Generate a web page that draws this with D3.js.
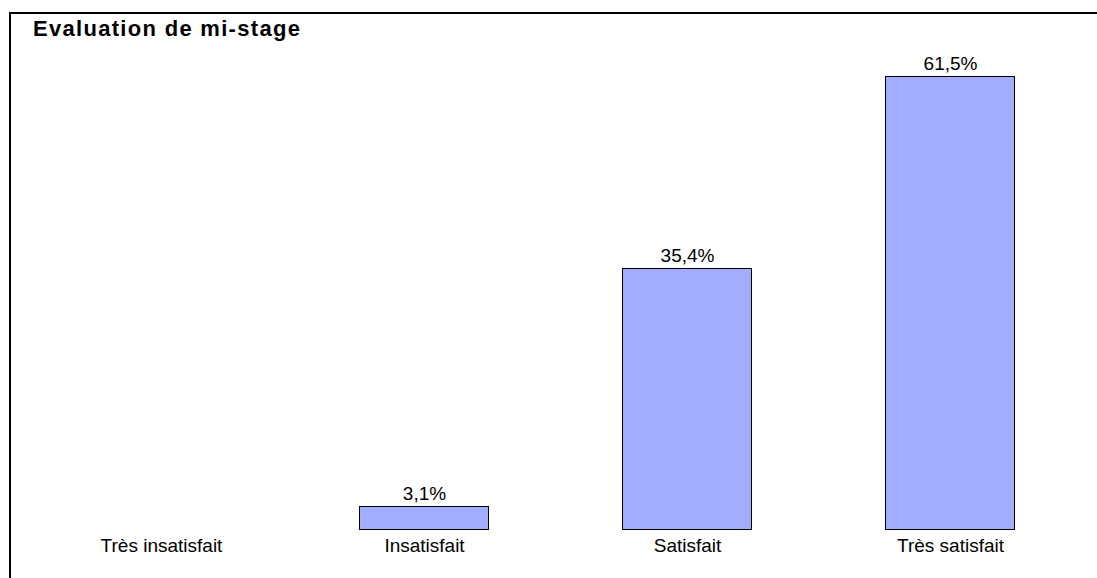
<!DOCTYPE html>
<html>
<head>
<meta charset="utf-8">
<script src="https://cdn.jsdelivr.net/npm/d3@7"></script>
<style>
  body { margin: 0; background: #fff; }
  svg { display: block; font-family: "Liberation Sans", Arial, sans-serif; }
</style>
</head>
<body>
<svg id="chart" width="1097" height="578"></svg>
<script>
var categories = ['Très insatisfait', 'Insatisfait', 'Satisfait', 'Très satisfait'];
var values = [0, 3.1, 35.4, 61.5];
var valueLabels = ['', '3,1%', '35,4%', '61,5%'];

var width = 1097, height = 578;
var svg = d3.select('#chart');

// rows built from the arrays above
var rows = categories.map(function(c, i){
  return {cat: c, val: values[i], label: valueLabels[i]};
});

// frame: only top and left edges show
svg.append('line').attr('x1', 9).attr('x2', width).attr('y1', 13).attr('y2', 13)
  .attr('stroke', '#000').attr('stroke-width', 2);
svg.append('line').attr('x1', 10).attr('x2', 10).attr('y1', 12).attr('y2', height)
  .attr('stroke', '#000').attr('stroke-width', 2);

svg.append('text')
  .attr('x', 33).attr('y', 36)
  .attr('font-size', 22).attr('font-weight', 'bold')
  .attr('letter-spacing', 1.3)
  .text('Evaluation de mi-stage');

var x = d3.scaleBand()
  .domain(categories)
  .range([29, 1081])
  .paddingInner(0.51)
  .paddingOuter(0.255);

var y = d3.scaleLinear()
  .domain([0, 61.5])
  .range([529, 76]);

var g = svg.append('g');

g.selectAll('rect')
  .data(rows.filter(function(d){ return d.val > 0; }))
  .enter()
    .append('rect')
    .attr('x', function(d){ return Math.round(x(d.cat)) + 0.5; })
    .attr('y', function(d){ return Math.round(y(d.val)) + 0.5; })
    .attr('width', Math.round(x.bandwidth()))
    .attr('height', function(d){ return y(0) - Math.round(y(d.val)); })
    .attr('fill', '#a3adff')
    .attr('stroke', '#000')
    .attr('stroke-width', 1);

g.selectAll('text.val')
  .data(rows)
  .enter()
    .append('text')
    .attr('class', 'val')
    .attr('x', function(d){ return x(d.cat) + x.bandwidth() / 2 + 1; })
    .attr('y', function(d){ return Math.round(y(d.val)) - 6; })
    .attr('text-anchor', 'middle')
    .attr('font-size', 19)
    .text(function(d){ return d.label; });

var xAxis = d3.axisBottom(x).tickSize(0).tickPadding(0);
var ax = svg.append('g').attr('transform', 'translate(1,' + 552 + ')').call(xAxis);
ax.select('.domain').remove();
ax.selectAll('text')
  .attr('dy', 0)
  .attr('font-size', 19)
  .attr('font-family', '"Liberation Sans", Arial, sans-serif')
  .attr('fill', '#000');
</script>
</body>
</html>
